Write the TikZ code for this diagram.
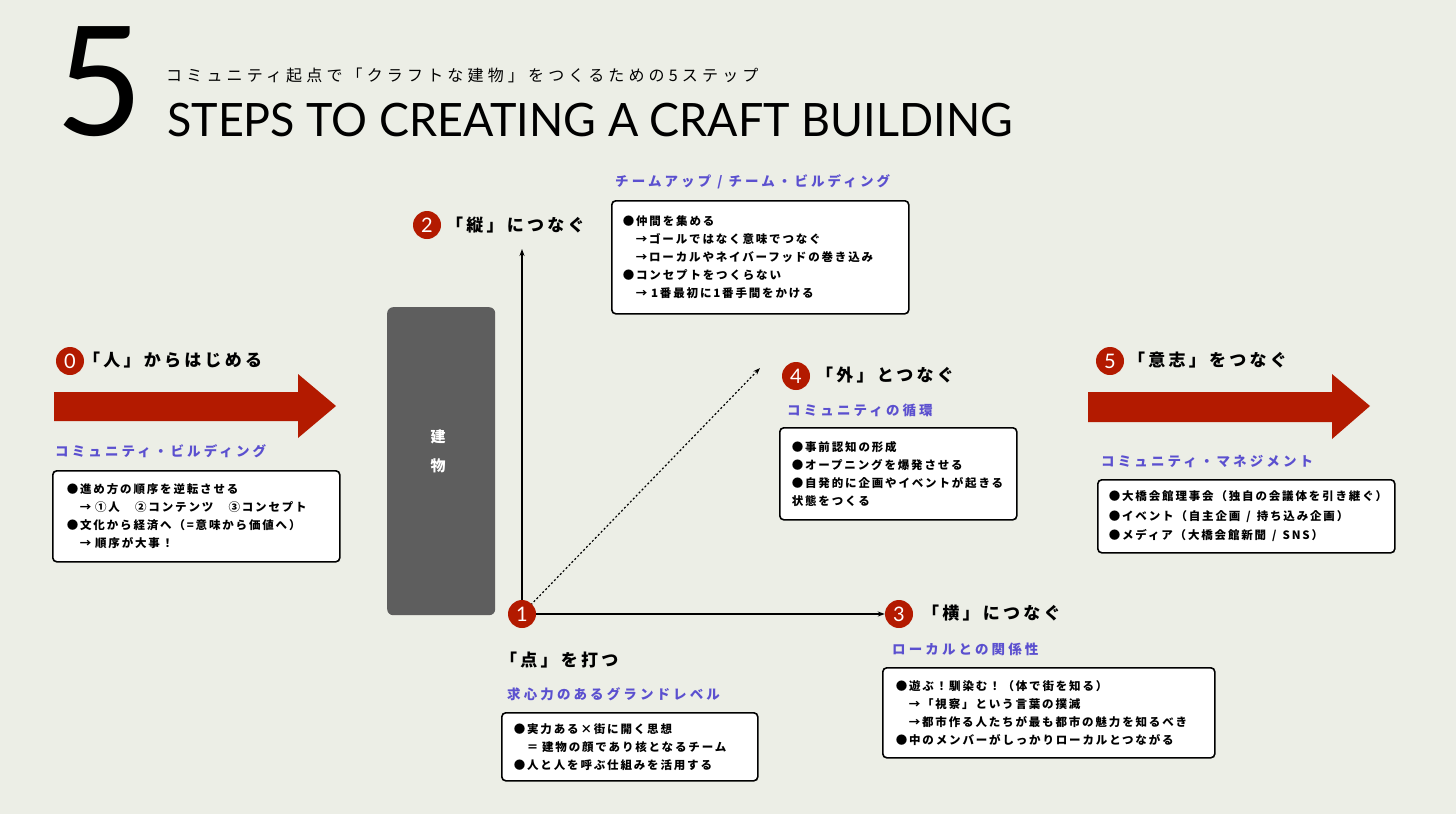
\documentclass[tikz,border=0pt]{standalone}
\usepackage{fontspec}
\usetikzlibrary{arrows.meta,backgrounds}
\setmainfont{Lato}
\newfontfamily\lat{Lato}
\newfontfamily\jp{Noto Sans CJK JP}[LetterSpace=16]
\newfontfamily\jph{Noto Sans CJK JP}[LetterSpace=19]
\newfontfamily\jpt{Noto Sans CJK JP}[LetterSpace=23]
\newfontfamily\jps{Noto Sans CJK JP}[LetterSpace=26]
\definecolor{bg}{HTML}{ECEEE6}
\definecolor{myred}{HTML}{B31A00}
\definecolor{mypurple}{HTML}{5B50CF}
\definecolor{bldg}{HTML}{5E5E5E}
\tikzset{
  num/.style={circle, fill=myred, text=white, minimum size=28pt, inner sep=0pt, font=\lat\fontsize{20}{20}\selectfont},
  head/.style={anchor=west, inner sep=0pt, font=\jph\bfseries\fontsize{17}{20}\selectfont},
  sub/.style={anchor=west, inner sep=0pt, text=mypurple, font=\jpt\bfseries\fontsize{13.5}{16}\selectfont},
  card/.style={draw=black, line width=1.6pt, fill=white, rounded corners=4pt, align=left, anchor=north west, inner ysep=0pt, font=\jp\bfseries\fontsize{11.5}{18}\selectfont},
  conn/.style={line width=1.2pt, -{Stealth[length=7pt,width=5pt]}},
  bigarrow/.style={fill=myred},
}
\newcommand{\ind}{\hspace*{13pt}}
\newcommand{\slsep}{\hspace{6pt}/\hspace{6pt}}
\begin{document}
\begin{tikzpicture}[x=1pt,y=-1pt]
\useasboundingbox (0,0) rectangle (1456,814);

% title
\node[anchor=base west, inner sep=0pt, font=\lat\fontsize{152}{152}\selectfont] (five) at (55,135) {5};
\node[anchor=west, inner sep=0pt, font=\jps\fontsize{16}{18}\selectfont] (subtitle) at (166,75) {コミュニティ起点で「クラフトな建物」をつくるための5ステップ};
\node[anchor=base west, inner sep=0pt, font=\lat\fontsize{46}{46}\selectfont] (title) at (167,136) {\scalebox{0.975}[1]{STEPS TO CREATING A CRAFT BUILDING}};

% big arrows
\fill[bigarrow] (54,392) -- (298,392) -- (298,374) -- (336,406) -- (298,438) -- (298,421) -- (54,421) -- cycle;
\fill[bigarrow] (1088,392) -- (1332,392) -- (1332,374) -- (1370,406) -- (1332,439) -- (1332,422) -- (1088,422) -- cycle;

% building
\node[fill=bldg, rounded corners=6pt, minimum width=108pt, minimum height=308pt, anchor=north west, inner sep=0pt] (bldg) at (387,307) {};
\node[text=white, inner sep=0pt, font=\jp\bfseries\fontsize{15}{15}\selectfont] (b1) at (438,437) {建};
\node[text=white, inner sep=0pt, font=\jp\bfseries\fontsize{15}{15}\selectfont] (b2) at (438,466) {物};

% step circles
\node[num] (n0) at (70,361) {0};
\node[num] (n1) at (522,614) {1};
\node[num] (n2) at (427,225) {2};
\node[num] (n3) at (899,614) {3};
\node[num] (n4) at (796,376) {4};
\node[num] (n5) at (1110,361) {5};

\coordinate (up) at (522,249);
\coordinate (diag) at (760,368);
\begin{scope}[on background layer]
\fill[bg] (0,0) rectangle (1456,814);
\draw[conn] (n1.center) -- (up);
\draw[conn] (n1.center) -- (n3.west);
\draw[conn, dash pattern=on 2pt off 2.2pt] (n1.center) -- (diag);
\end{scope}

% headings
\node[head] (h0) at (83,360) {「人」からはじめる};
\node[head] (h2) at (446,225) {「縦」につなぐ};
\node[head] (h4) at (816,375) {「外」とつなぐ};
\node[head] (h3) at (922,613) {「横」につなぐ};
\node[head] (h5) at (1128,360) {「意志」をつなぐ};
\node[head] (h1) at (500,660) {「点」を打つ};

% purple subtitles
\node[sub] (s0) at (55,451) {コミュニティ・ビルディング};
\node[sub] (s2) at (615,182) {チームアップ\slsep チーム・ビルディング};
\node[sub] (s4) at (787,410) {コミュニティの循環};
\node[sub] (s3) at (892,649) {ローカルとの関係性};
\node[sub] (s1) at (507,694) {求心力のあるグランドレベル};
\node[sub] (s5) at (1101,462) {コミュニティ・マネジメント};

% cards
\node[card, inner xsep=14pt, text width=259pt, minimum height=91pt] (c0) at (52,470) {%
●進め方の順序を逆転させる\\
\ind → ①人　②コンテンツ　③コンセプト\\
●文化から経済へ（=意味から価値へ）\\
\ind → 順序が大事！};
\node[card, inner xsep=11pt, text width=275pt, minimum height=113pt] (c2) at (611,200) {%
●仲間を集める\\
\ind →ゴールではなく意味でつなぐ\\
\ind →ローカルやネイバーフッドの巻き込み\\
●コンセプトをつくらない\\
\ind → 1番最初に1番手間をかける};
\node[card, inner xsep=12pt, text width=213pt, minimum height=92pt] (c4) at (779,427) {%
●事前認知の形成\\
●オープニングを爆発させる\\
●自発的に企画やイベントが起きる\\
状態をつくる};
\node[card, inner xsep=12pt, text width=232pt, minimum height=68pt] (c1) at (501,712) {%
●実力ある×街に開く思想\\
\ind ＝ 建物の顔であり核となるチーム\\
●人と人を呼ぶ仕組みを活用する};
\node[card, inner xsep=13pt, text width=306pt, minimum height=90pt] (c3) at (882,667) {%
●遊ぶ！馴染む！（体で街を知る）\\
\ind →「視察」という言葉の撲滅\\
\ind →都市作る人たちが最も都市の魅力を知るべき\\
●中のメンバーがしっかりローカルとつながる};
\node[card, inner xsep=11pt, text width=275pt, minimum height=73pt, font=\jp\bfseries\fontsize{11.5}{19.5}\selectfont] (c5) at (1097,479) {%
●大橋会館理事会（独自の会議体を引き継ぐ）\\
●イベント（自主企画\slsep 持ち込み企画）\\
●メディア（大橋会館新聞\slsep SNS）};
\end{tikzpicture}
\end{document}
